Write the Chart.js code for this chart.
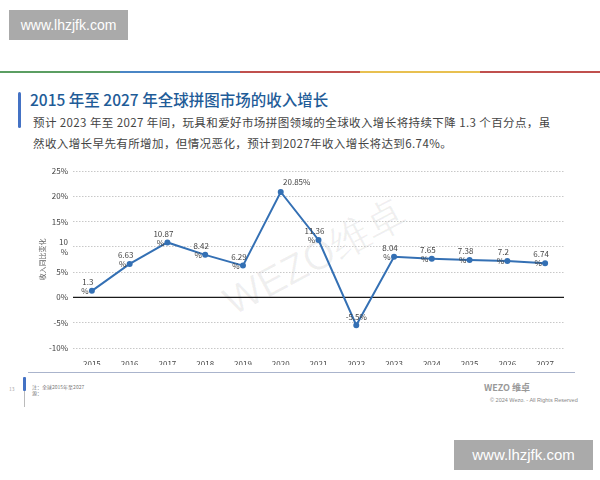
<!DOCTYPE html>
<html>
<head>
<meta charset="utf-8">
<script src="https://cdn.jsdelivr.net/npm/chart.js@4.4.0/dist/chart.umd.min.js"></script>
<style>
    body { margin: 0; width: 600px; height: 480px; background: #fff; position: relative; overflow: hidden;
           font-family: "Noto Sans CJK SC", "Noto Sans", sans-serif; }
    .wm { position: absolute; background: #aaaaaa; color: #fff; font-family: "Liberation Sans", Arial, sans-serif; }
    #wm1 { left: 9px; top: 10px; width: 119px; height: 30px; font-size: 14px; line-height: 30px; text-align: center; }
    #wm2 { left: 454px; top: 440px; width: 139px; height: 30px; font-size: 15px; line-height: 30px; text-align: center; }
    #stripe { position: absolute; left: 0; top: 71px; width: 600px; height: 2px; display: flex; }
    #stripe div { flex: 1; }
    #bar { position: absolute; left: 18px; top: 92px; width: 3px; height: 36px; background: #4472c4; border-radius: 2px; }
    #title { position: absolute; left: 30px; top: 88px; font-size: 15.5px; color: #1f5c98; font-weight: 500; white-space: nowrap; }
    #sub { position: absolute; left: 33px; top: 112px; font-size: 11.5px; line-height: 21px; color: #444; white-space: nowrap; letter-spacing: 0.4px; }
    #chartBox { position: absolute; left: 0; top: 160px; width: 600px; height: 205px; }
    #bigwm { position: absolute; left: 215px; top: 230px; font-size: 40px; color: rgba(0,0,0,0.06);
             transform: rotate(-28deg); font-family: "Liberation Sans", sans-serif; white-space: nowrap; }
    #footline { position: absolute; left: 28px; top: 372px; width: 547px; height: 1px; background: #aab4cc; }
    #footbar { position: absolute; left: 23px; top: 377px; width: 3px; height: 14px; background: #4472c4; border-radius: 1px; }
    #footbar2 { position: absolute; left: 24px; top: 391px; width: 1px; height: 16px; background: #bbb; }
    #pageno { position: absolute; left: 9px; top: 385px; font-size: 5px; color: #aaa; }
    #note { position: absolute; left: 32px; top: 384px; font-size: 5px; color: #777; line-height: 6px; }
    #logo { position: absolute; left: 484px; top: 381px; font-size: 9px; color: #999; font-weight: bold; white-space: nowrap; }
    #copy { position: absolute; left: 490px; top: 397px; font-size: 5.5px; color: #888; white-space: nowrap; font-family: "Liberation Sans", sans-serif; }
</style>
</head>
<body>
<div class="wm" id="wm1">www.lhzjfk.com</div>
<div id="stripe">
    <div style="background:#5b9e62"></div>
    <div style="background:#4a86c5"></div>
    <div style="background:#c0504d"></div>
    <div style="background:#e8c050"></div>
    <div style="background:#c0504d"></div>
</div>
<div id="bar"></div>
<div id="title">2015 年至 2027 年全球拼图市场的收入增长</div>
<div id="sub">预计 2023 年至 2027 年间，玩具和爱好市场拼图领域的全球收入增长将持续下降 1.3 个百分点，虽<br>然收入增长早先有所增加，但情况恶化，预计到2027年收入增长将达到6.74%。</div>
<div id="bigwm">WEZO维卓</div>
<div id="chartBox"><canvas id="growth"></canvas></div>
<div id="footline"></div>
<div id="footbar"></div>
<div id="footbar2"></div>
<div id="pageno">13</div>
<div id="note">注：全球2015年至2027<br>源：</div>
<div id="logo">WEZO 维卓</div>
<div id="copy">© 2024 Wezo. - All Rights Reserved</div>
<div class="wm" id="wm2">www.lhzjfk.com</div>

<script>
// data
const years = ['2015', '2016', '2017', '2018', '2019', '2020', '2021', '2022', '2023', '2024', '2025', '2026', '2027'];
const growth = [1.3, 6.63, 10.87, 8.42, 6.29, 20.85, 11.36, -5.5, 8.04, 7.65, 7.38, 7.2, 6.74];
const pointLabels = ['1.3\n%', '6.63\n%', '10.87\n%', '8.42\n%', '6.29\n%', '20.85%', '11.36\n%', '-5.5%', '8.04\n%', '7.65\n%', '7.38\n%', '7.2\n%', '6.74\n%'];
const yTicks = { '25': '25%', '20': '20%', '15': '15%', '10': ['10', '%'], '5': '5%', '0': '0%', '-5': '-5%', '-10': '-10%' };

const labelFont = '8px "Noto Sans CJK SC", sans-serif';

// value labels and the solid zero line
const extras = {
    id: 'extras',
    beforeDatasetsDraw(chart) {
        const { ctx, chartArea, scales } = chart;
        const y0 = scales.y.getPixelForValue(0);
        ctx.save();
        ctx.strokeStyle = '#1a1a1a';
        ctx.lineWidth = 1.3;
        ctx.beginPath();
        ctx.moveTo(chartArea.left, y0);
        ctx.lineTo(chartArea.right, y0);
        ctx.stroke();
        ctx.restore();
    },
    afterDatasetsDraw(chart) {
        const { ctx } = chart;
        const pts = chart.getDatasetMeta(0).data;
        ctx.save();
        ctx.font = labelFont;
        ctx.fillStyle = '#444';
        ctx.textAlign = 'center';
        ctx.textBaseline = 'middle';
        pts.forEach((p, i) => {
            const parts = pointLabels[i].split('\n');
            if (parts.length === 2) {
                ctx.fillText(parts[0], p.x - 4, p.y - 9);
                ctx.fillText(parts[1], p.x - 7, p.y);
            } else if (growth[i] < 0) {
                ctx.fillText(parts[0], p.x, p.y - 8);
            } else {
                ctx.fillText(parts[0], p.x + 16, p.y - 10);
            }
        });
        ctx.restore();
    }
};

new Chart(document.getElementById('growth'), {
    type: 'line',
    data: {
        labels: years,
        datasets: [{
            data: growth,
            borderColor: '#3470b4',
            backgroundColor: '#3470b4',
            borderWidth: 2,
            pointRadius: 2,
            tension: 0
        }]
    },
    plugins: [extras],
    options: {
        responsive: true,
        maintainAspectRatio: false,
        animation: false,
        layout: { padding: { left: 30, right: 36, top: 11, bottom: 0 } },
        plugins: {
            legend: { display: false },
            tooltip: { enabled: false }
        },
        scales: {
            x: {
                offset: true,
                grid: { display: false },
                border: { display: false },
                ticks: { color: '#444', font: { size: 8, family: '"Noto Sans CJK SC", sans-serif' }, padding: 3, maxRotation: 0 },
                afterFit(scale) { scale.height = 17; }
            },
            y: {
                min: -10,
                max: 25,
                grid: {
                    drawTicks: false,
                    color: ctx => ctx.tick.value === 0 ? 'rgba(0,0,0,0)' : '#c8c8c8',
                    lineWidth: 1
                },
                border: { display: false, dash: [1.5, 1.5] },
                ticks: {
                    stepSize: 5,
                    color: '#444',
                    padding: 5,
                    font: { size: 8, family: '"Noto Sans CJK SC", sans-serif' },
                    callback: v => yTicks[String(v)]
                },
                title: {
                    display: true,
                    text: '收入同比变化',
                    color: '#666',
                    font: { size: 7, family: '"Noto Sans CJK SC", sans-serif' },
                    padding: { top: 8, bottom: 0 }
                },
                afterFit(scale) { scale.width = 43; }
            }
        }
    }
});
</script>
</body>
</html>
